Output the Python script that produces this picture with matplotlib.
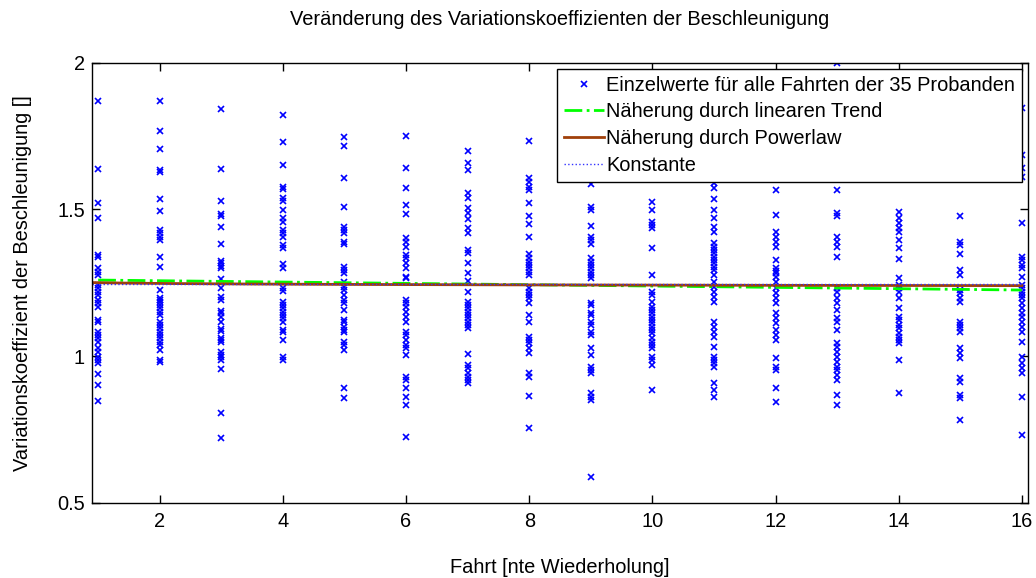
import numpy as np
import matplotlib
matplotlib.use('Agg')
import matplotlib.pyplot as plt

plt.rcParams['font.family'] = ['Liberation Sans', 'DejaVu Sans']

# Einzelwerte je Fahrt
fahrt_01 = [1.871, 1.636, 1.521, 1.469, 1.344, 1.339, 1.299, 1.288, 1.276, 1.242, 1.231, 1.219, 1.208,
            1.191, 1.180, 1.168, 1.123, 1.117, 1.083, 1.072, 1.060, 1.049, 1.026, 1.015, 0.998, 0.987,
            0.975, 0.938, 0.901, 0.845]
fahrt_02 = [1.871, 1.767, 1.706, 1.634, 1.629, 1.535, 1.494, 1.430, 1.418, 1.407, 1.396, 1.339, 1.305,
            1.225, 1.197, 1.191, 1.185, 1.174, 1.163, 1.151, 1.140, 1.117, 1.106, 1.094, 1.083, 1.072,
            1.060, 1.049, 1.038, 1.021, 0.987, 0.981]
fahrt_03 = [1.841, 1.636, 1.530, 1.483, 1.476, 1.440, 1.381, 1.324, 1.316, 1.308, 1.299, 1.263, 1.231,
            1.202, 1.191, 1.153, 1.146, 1.134, 1.117, 1.092, 1.085, 1.060, 1.055, 1.049, 1.015, 1.004,
            0.998, 0.987, 0.956, 0.807, 0.719]
fahrt_04 = [1.822, 1.731, 1.651, 1.577, 1.569, 1.538, 1.529, 1.498, 1.469, 1.458, 1.430, 1.418, 1.407,
            1.379, 1.367, 1.313, 1.299, 1.231, 1.222, 1.185, 1.174, 1.163, 1.151, 1.140, 1.129, 1.117,
            1.089, 1.083, 1.055, 0.998, 0.987]
fahrt_05 = [1.748, 1.717, 1.608, 1.507, 1.441, 1.430, 1.418, 1.390, 1.381, 1.305, 1.293, 1.282, 1.254,
            1.236, 1.225, 1.208, 1.191, 1.180, 1.157, 1.123, 1.117, 1.100, 1.089, 1.083, 1.049, 1.038,
            1.021, 0.890, 0.856]
fahrt_06 = [1.751, 1.642, 1.574, 1.515, 1.483, 1.401, 1.390, 1.373, 1.344, 1.333, 1.316, 1.299, 1.270,
            1.265, 1.191, 1.180, 1.168, 1.151, 1.134, 1.117, 1.083, 1.072, 1.055, 1.038, 1.026, 1.004,
            0.930, 0.918, 0.890, 0.861, 0.833, 0.723]
fahrt_07 = [1.699, 1.657, 1.634, 1.555, 1.538, 1.503, 1.486, 1.467, 1.438, 1.418, 1.362, 1.350, 1.316,
            1.282, 1.256, 1.219, 1.185, 1.174, 1.163, 1.151, 1.140, 1.129, 1.117, 1.106, 1.094, 1.006,
            0.969, 0.958, 0.941, 0.930, 0.918, 0.907]
fahrt_08 = [1.734, 1.606, 1.594, 1.577, 1.566, 1.521, 1.479, 1.449, 1.407, 1.347, 1.333, 1.322, 1.310,
            1.299, 1.288, 1.276, 1.231, 1.219, 1.208, 1.197, 1.180, 1.140, 1.117, 1.066, 1.055, 1.043,
            1.026, 1.009, 0.941, 0.930, 0.865, 0.753]
fahrt_09 = [1.585, 1.509, 1.498, 1.444, 1.407, 1.396, 1.381, 1.333, 1.322, 1.310, 1.299, 1.288, 1.276,
            1.265, 1.180, 1.174, 1.146, 1.140, 1.117, 1.106, 1.083, 1.072, 1.026, 1.004, 0.964, 0.952,
            0.941, 0.873, 0.861, 0.850, 0.589]
fahrt_10 = [1.526, 1.498, 1.458, 1.447, 1.435, 1.367, 1.276, 1.219, 1.208, 1.185, 1.168, 1.157, 1.146,
            1.134, 1.123, 1.111, 1.100, 1.089, 1.077, 1.060, 1.049, 1.038, 1.026, 0.998, 0.987, 0.969,
            0.884]
fahrt_11 = [1.589, 1.572, 1.535, 1.498, 1.469, 1.441, 1.424, 1.384, 1.373, 1.362, 1.350, 1.339, 1.327,
            1.316, 1.305, 1.293, 1.276, 1.254, 1.236, 1.219, 1.202, 1.185, 1.117, 1.100, 1.083, 1.066,
            1.032, 0.998, 0.987, 0.975, 0.964, 0.907, 0.884, 0.861]
fahrt_12 = [1.566, 1.481, 1.424, 1.407, 1.390, 1.373, 1.327, 1.299, 1.290, 1.282, 1.270, 1.254, 1.231,
            1.214, 1.197, 1.180, 1.146, 1.129, 1.111, 1.089, 1.072, 1.055, 0.992, 0.964, 0.952, 0.890,
            0.844]
fahrt_13 = [1.998, 1.566, 1.486, 1.477, 1.407, 1.390, 1.373, 1.339, 1.231, 1.219, 1.197, 1.180, 1.157,
            1.129, 1.117, 1.089, 1.043, 1.032, 1.015, 0.998, 0.981, 0.964, 0.952, 0.935, 0.918, 0.867,
            0.833]
fahrt_14 = [1.492, 1.469, 1.452, 1.435, 1.424, 1.396, 1.367, 1.331, 1.265, 1.242, 1.231, 1.219, 1.197,
            1.163, 1.134, 1.123, 1.106, 1.094, 1.077, 1.066, 1.055, 1.043, 0.987, 0.873]
fahrt_15 = [1.477, 1.390, 1.379, 1.347, 1.293, 1.276, 1.225, 1.214, 1.197, 1.185, 1.117, 1.106, 1.094,
            1.083, 1.026, 1.009, 0.992, 0.924, 0.912, 0.867, 0.856, 0.782]
fahrt_16 = [1.844, 1.685, 1.640, 1.611, 1.452, 1.339, 1.327, 1.310, 1.299, 1.270, 1.242, 1.231, 1.219,
            1.208, 1.197, 1.180, 1.163, 1.146, 1.134, 1.117, 1.100, 1.083, 1.049, 0.998, 0.975, 0.958,
            0.941, 0.861, 0.730]

alle_fahrten = [fahrt_01, fahrt_02, fahrt_03, fahrt_04, fahrt_05, fahrt_06, fahrt_07, fahrt_08,
                fahrt_09, fahrt_10, fahrt_11, fahrt_12, fahrt_13, fahrt_14, fahrt_15, fahrt_16]

# Modellparameter
lin_start, lin_ende = 1.259, 1.225      # Werte bei Fahrt 1 und 16
pow_a, pow_b = 1.250, -0.0029           # y = a * x^b
konstante = 1.244

fs = 14.4

fig = plt.figure(figsize=(10.36, 5.78), dpi=100)
ax = fig.add_axes([0.0888, 0.1303, 0.9035, 0.7612])

# Einzelwerte
xs = []
ys = []
for i, werte in enumerate(alle_fahrten):
    xs += [i + 1] * len(werte)
    ys += werte
ax.plot(xs, ys, linestyle='none', marker='x', color='#0000ff', markersize=4, markeredgewidth=1.2,
        label='Einzelwerte für alle Fahrten der 35 Probanden')

x_fit = np.linspace(1, 16, 200)
y_lin = lin_start + (lin_ende - lin_start) * (x_fit - 1) / 15
ax.plot(x_fit, y_lin, color='#00ff00', linestyle='-.', linewidth=2, label='Näherung durch linearen Trend')

x_full = np.linspace(0.9, 16, 200)
ax.plot(x_full, pow_a * x_full ** pow_b, color='#a0400a', linewidth=2, label='Näherung durch Powerlaw')
ax.plot(x_full, np.full_like(x_full, konstante), color='#3333ff', linestyle=':', linewidth=1,
        label='Konstante')

ax.set_xlim(0.9, 16.1)
ax.set_ylim(0.5, 2)
ax.set_xticks(range(2, 17, 2))
ax.set_yticks([0.5, 1, 1.5, 2])
ax.set_yticklabels(['0.5', '1', '1.5', '2'])
ax.tick_params(direction='in', top=True, right=True, length=6, width=1, labelsize=fs, pad=5)
ax.tick_params(axis='x', pad=7)
for s in ax.spines.values():
    s.set_linewidth(1)

ax.set_title('Veränderung des Variationskoeffizienten der Beschleunigung', fontsize=fs, pad=27)
ax.set_xlabel('Fahrt [nte Wiederholung]', fontsize=fs, labelpad=19)
ax.set_ylabel('Variationskoeffizient der Beschleunigung []', fontsize=fs, labelpad=18)

leg = ax.legend(loc='upper right', fontsize=fs, fancybox=False, framealpha=1, edgecolor='black',
                borderpad=0.35, labelspacing=0.38, handlelength=2.0, handletextpad=0.1,
                borderaxespad=0.3, markerscale=1)
leg.get_frame().set_linewidth(1)

plt.savefig('out.png', dpi=100)
